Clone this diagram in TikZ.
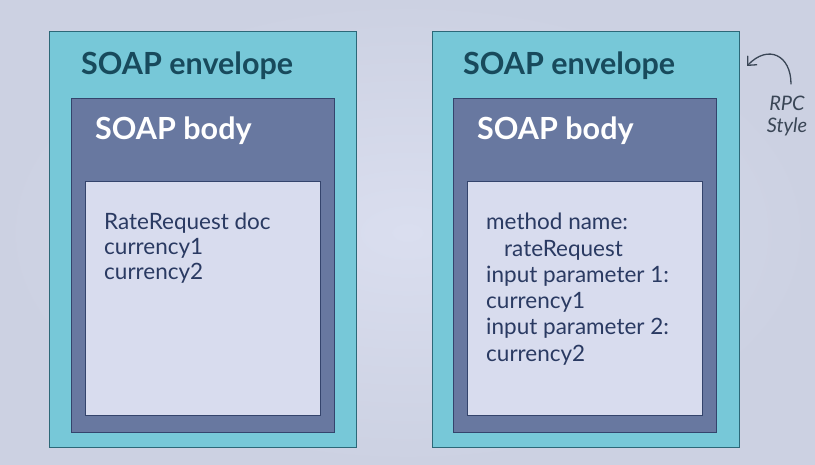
\documentclass[tikz,border=0pt]{standalone}
\usepackage{fontspec}
\setmainfont{Lato}
\usetikzlibrary{arrows.meta}
\definecolor{bgin}{HTML}{DADEEF}
\definecolor{bgout}{HTML}{CCD1E2}
\definecolor{envfill}{HTML}{77C8D8}
\definecolor{envline}{HTML}{2C6878}
\definecolor{envtext}{HTML}{184A5C}
\definecolor{bodyfill}{HTML}{6878A0}
\definecolor{bodyline}{HTML}{34446C}
\definecolor{docfill}{HTML}{D8DCEE}
\definecolor{doctext}{HTML}{2A3A62}
\definecolor{notecol}{HTML}{3A4656}
\tikzset{
  envbox/.style={draw=envline, fill=envfill, line width=1.2pt, anchor=north west, inner sep=0pt, minimum width=307pt, minimum height=416pt},
  bodybox/.style={draw=bodyline, fill=bodyfill, line width=1.2pt, anchor=north west, inner sep=0pt, minimum width=263pt, minimum height=334pt},
  docbox/.style={draw=bodyline, fill=docfill, line width=1.2pt, anchor=north west, inner sep=0pt, minimum width=235pt, minimum height=234pt},
  envlabel/.style={anchor=base west, inner sep=0pt, text=envtext, font=\fontsize{30.5}{36}\selectfont\bfseries},
  bodylabel/.style={anchor=base west, inner sep=0pt, text=white, font=\fontsize{30.5}{36}\selectfont\bfseries},
  doctextstyle/.style={anchor=north west, inner sep=0pt, align=left, text=doctext, font=\fontsize{22.5}{25}\selectfont}
}
\begin{document}
\begin{tikzpicture}[x=1pt,y=-1pt]
    \shade[inner color=bgin, outer color=bgout] (0,0) rectangle (815,465);
    \useasboundingbox (0,0) rectangle (815,465);
    % document style
    \node[envbox] (envA) at (49,31) {};
    \node[envlabel] (envAtitle) at (81,75) {SOAP envelope};
    \node[bodybox] (bodyA) at (71,98) {};
    \node[bodylabel] (bodyAtitle) at (95,140) {SOAP body};
    \node[docbox] (docA) at (85,181) {};
    \node[doctextstyle] (docAtext) at (104,213) {RateRequest doc\\currency1\\currency2};
    % rpc style
    \node[envbox] (envB) at (432,31) {};
    \node[envlabel] (envBtitle) at (463,75) {SOAP envelope};
    \node[bodybox] (bodyB) at (453,98) {};
    \node[bodylabel] (bodyBtitle) at (477,140) {SOAP body};
    \node[docbox] (docB) at (467,181) {};
    \node[doctextstyle, font=\fontsize{22.5}{26.3}\selectfont] (docBtext) at (486,213) {method name:\\\hspace{18pt}rateRequest\\input parameter 1:\\currency1\\input parameter 2:\\currency2};
    % note
    \node[align=center, inner sep=0pt, text=notecol, font=\fontsize{20}{22}\selectfont\itshape] (rpc) at (787,116) {RPC\\Style};
    \coordinate (rpctip) at (747,66);
    \draw[notecol, line width=1.3pt, line cap=round, -{Straight Barb[length=7pt,width=13pt]}] (791,84) .. controls (791,55) and (768,44) .. (rpctip);
\end{tikzpicture}
\end{document}
